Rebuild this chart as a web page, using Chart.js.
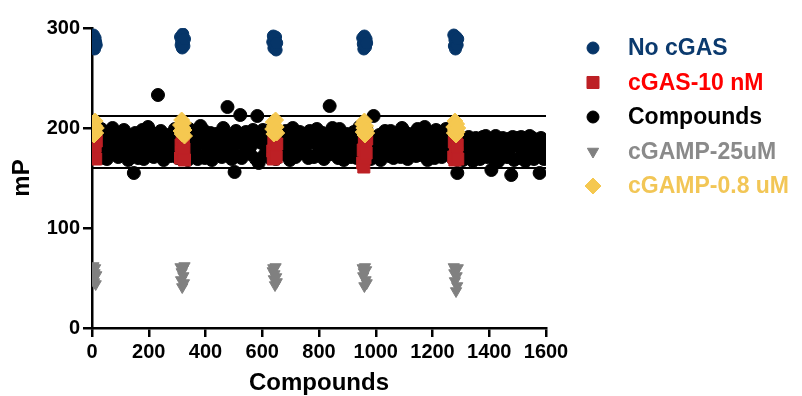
<!DOCTYPE html>
<html>
<head>
<meta charset="utf-8">
<script src="https://cdn.jsdelivr.net/npm/chart.js@4.4.1/dist/chart.umd.min.js"></script>
<style>
  html, body { margin: 0; padding: 0; background: #fff; }
</style>
</head>
<body>
<canvas id="chart" width="802" height="396"></canvas>
<script>
const FONT = '"Liberation Sans", Arial, sans-serif';

// Compounds: one value per 5 wells
const compoundStart = 2.5;
const compoundStep = 5;
const compoundValues = [
  186,172,197,175,194,183,199,181,170,188,169,193,173,185,200,196,177,182,171,191,187,184,198,174,192,168,180,176,186,155,
  195,179,170,182,174,198,169,189,192,201,176,184,187,171,194,178,233,173,197,185,168,174,193,181,190,172,186,183,199,175,
  170,188,196,193,180,172,185,168,199,176,197,182,191,183,169,173,202,187,198,170,184,181,175,195,168,189,191,194,186,177,
  179,171,200,187,175,221,192,184,169,181,156,197,172,186,213,170,190,182,196,176,188,174,183,198,189,169,212,165,194,185,
  198,173,187,179,192,170,184,201,176,169,188,195,193,181,174,176,197,183,187,168,192,200,179,171,173,186,196,190,175,184,
  182,194,170,197,172,186,171,185,199,188,177,193,195,169,181,178,191,222,174,200,185,189,180,170,199,173,183,168,187,194,
  192,178,171,185,196,175,170,183,201,194,187,172,177,198,181,186,169,191,212,176,184,181,193,168,173,190,197,183,179,172,
  197,184,170,175,192,186,189,171,200,180,196,174,169,187,193,194,178,182,172,199,185,186,173,191,201,181,168,176,190,195,
  184,170,198,192,185,176,171,196,181,199,174,188,187,193,169,178,190,155,172,186,190,168,181,188,179,191,170,185,167,177,
  190,172,183,169,180,191,184,192,171,176,188,158,170,181,192,189,167,178,173,190,182,185,171,189,178,153,191,168,184,190,
  182,170,191,188,176,167,172,185,192,179,190,169,186,173,182,155,190,177,169,186
];

// Control wells: first well of each plate and offsets inside the control block
const plateStarts = [1, 312, 637, 954, 1275];
const wellOffsets = [0, 2, 4, 6, 8, 10, 12, 14];

// control values per plate (8 wells each)
const noCgas = [
  [288,281,293,284,279,290,286,283],
  [291,283,287,280,294,285,282,289],
  [286,292,280,288,283,291,278,285],
  [290,284,279,292,287,281,289,285],
  [293,282,288,279,291,285,283,289]
];
const cgas10nM = [
  [172,185,178,190,175,182,169,187],
  [170,183,176,191,173,188,179,168],
  [177,169,186,174,190,181,171,184],
  [165,178,161,186,170,183,175,189],
  [171,186,168,180,191,175,183,169]
];
const cgamp25uM = [
  [58,50,62,46,55,60,44,53],
  [61,48,56,41,59,52,45,62],
  [57,60,49,54,43,61,51,46],
  [60,52,56,42,61,48,58,45],
  [61,55,47,58,37,52,42,60]
];
const cgamp08uM = [
  [196,205,199,193,202,207,195,200],
  [203,197,208,194,200,205,198,192],
  [199,206,194,202,197,208,201,195],
  [204,196,200,207,193,202,198,195],
  [201,195,207,198,193,204,196,200]
];

// hit cut-off lines
const upperCutoff = 212;
const lowerCutoff = 160;
const xRange = [0, 1600];

function controlPoints(values) {
  const pts = [];
  plateStarts.forEach((start, p) => {
    wellOffsets.forEach((off, i) => {
      pts.push({ x: start + off, y: values[p][i] });
    });
  });
  return pts;
}

const compoundPoints = compoundValues.map((v, i) => ({ x: compoundStart + i * compoundStep, y: v }));

// Legend drawn on the right of the plot
const sideLegend = {
  id: 'sideLegend',
  afterDraw(chart) {
    const ctx = chart.ctx;
    const area = chart.chartArea;
    ctx.save();
    ctx.font = 'bold 23px ' + FONT;
    ctx.textBaseline = 'middle';
    ctx.textAlign = 'left';
    let row = 0;
    chart.data.datasets.forEach(ds => {
      if (ds.showLine) return;
      const y = area.top + 20 + row * 34.5;
      ctx.fillStyle = ds.backgroundColor;
      ctx.strokeStyle = ds.borderColor;
      ctx.lineWidth = 1;
      Chart.helpers.drawPoint(ctx, {
        pointStyle: ds.pointStyle,
        radius: ds.legendRadius || ds.pointRadius,
        rotation: ds.rotation || 0,
        borderWidth: 1
      }, area.right + 47, y);
      ctx.fillStyle = ds.legendColor;
      ctx.fillText(ds.label, area.right + 82, y + 1);
      row++;
    });
    ctx.restore();
  }
};

const tickFont = { family: FONT, size: 20, weight: 'bold' };
const titleFont = { family: FONT, size: 24, weight: 'bold', lineHeight: 1 };

new Chart(document.getElementById('chart'), {
  type: 'scatter',
  data: {
    datasets: [
      {
        label: 'No cGAS',
        data: controlPoints(noCgas),
        pointStyle: 'circle',
        pointRadius: 6,
        backgroundColor: '#063568',
        borderColor: '#063568',
        legendColor: '#0B3A6E',
        order: 2
      },
      {
        label: 'cGAS-10 nM',
        data: controlPoints(cgas10nM),
        pointStyle: 'rect',
        pointRadius: 8.5,
        backgroundColor: '#BD2025',
        borderColor: '#BD2025',
        legendColor: '#FF0000',
        order: 1
      },
      {
        label: 'Compounds',
        data: compoundPoints,
        pointStyle: 'circle',
        pointRadius: 6.5,
        legendRadius: 6,
        backgroundColor: '#000000',
        borderColor: '#000000',
        legendColor: '#000000',
        order: 4
      },
      {
        label: 'cGAMP-25uM',
        data: controlPoints(cgamp25uM),
        pointStyle: 'triangle',
        rotation: 180,
        pointRadius: 6.5,
        backgroundColor: '#808080',
        borderColor: '#808080',
        legendColor: '#8A8A8A',
        order: 3
      },
      {
        label: 'cGAMP-0.8 uM',
        data: controlPoints(cgamp08uM),
        pointStyle: 'rectRot',
        pointRadius: 8,
        backgroundColor: '#F5C850',
        borderColor: '#F5C850',
        legendColor: '#F2C656',
        order: 0
      },
      {
        label: 'upper',
        data: [{ x: xRange[0], y: upperCutoff }, { x: xRange[1], y: upperCutoff }],
        showLine: true,
        borderColor: '#000',
        borderWidth: 2,
        pointRadius: 0,
        order: 5
      },
      {
        label: 'lower',
        data: [{ x: xRange[0], y: lowerCutoff }, { x: xRange[1], y: lowerCutoff }],
        showLine: true,
        borderColor: '#000',
        borderWidth: 2,
        pointRadius: 0,
        order: 5
      }
    ]
  },
  options: {
    responsive: false,
    animation: false,
    layout: { padding: { top: 28, right: 256, bottom: 0, left: 0 } },
    plugins: {
      legend: { display: false },
      tooltip: { enabled: false }
    },
    scales: {
      x: {
        type: 'linear',
        min: xRange[0],
        max: xRange[1],
        afterFit: s => { s.height = 68; },
        border: { display: true, color: '#000', width: 2.5 },
        grid: { display: true, drawOnChartArea: false, drawTicks: true, tickLength: 9, color: '#000', lineWidth: 2.5 },
        ticks: { stepSize: 200, color: '#000', padding: 3, maxRotation: 0, autoSkip: false,
                 font: tickFont, callback: v => String(v) },
        title: { display: true, text: 'Compounds', color: '#000', font: titleFont,
                 padding: { top: 0, bottom: 1 } }
      },
      y: {
        min: 0,
        max: 300,
        afterFit: s => { s.width = 92; },
        border: { display: true, color: '#000', width: 2.5 },
        grid: { display: true, drawOnChartArea: false, drawTicks: true, tickLength: 9, color: '#000', lineWidth: 2.5 },
        ticks: { stepSize: 100, color: '#000', padding: 3, font: tickFont, callback: v => String(v) },
        title: { display: true, text: 'mP', color: '#000', font: titleFont,
                 padding: { top: 10, bottom: 0 } }
      }
    }
  },
  plugins: [sideLegend]
});
</script>
</body>
</html>
